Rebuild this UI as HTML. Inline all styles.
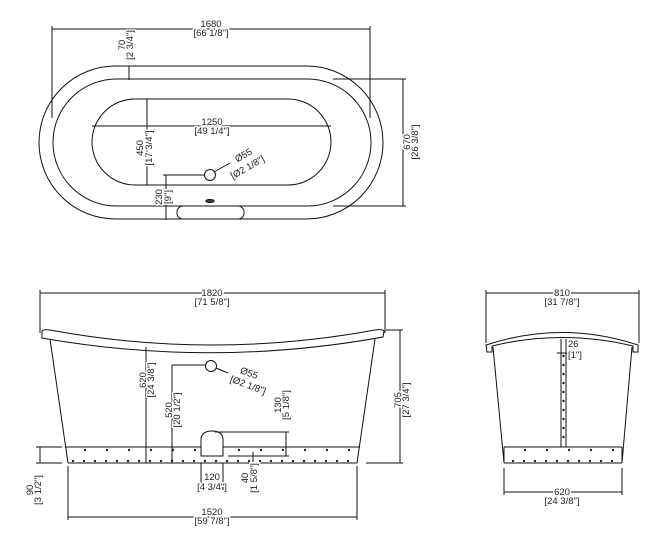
<!DOCTYPE html>
<html><head><meta charset="utf-8"><style>
html,body{margin:0;padding:0;background:#fff;}
svg{display:block;}
text{font-family:"Liberation Sans",sans-serif;font-size:9.5px;fill:#222;stroke:#fff;stroke-width:3px;paint-order:stroke;stroke-linejoin:round;}
</style></head><body>
<svg width="652" height="534" viewBox="0 0 652 534" xmlns="http://www.w3.org/2000/svg">
<defs>
<pattern id="d1" x="8" y="0" width="22" height="20" patternUnits="userSpaceOnUse"><circle cx="11" cy="450" r="1.2" fill="#222" transform="translate(0,-440)"/></pattern>
<pattern id="d2" x="2" y="0" width="11" height="20" patternUnits="userSpaceOnUse"><circle cx="5" cy="461" r="1.2" fill="#222" transform="translate(0,-460)"/></pattern>
</defs>
<g fill="none" stroke="#111" stroke-width="1">
<rect x="39" y="66" width="344" height="153" rx="76.5" ry="76.5"/>
<rect x="53" y="79" width="318" height="127" rx="63.5" ry="63.5"/>
<rect x="92" y="99" width="239" height="86" rx="43" ry="43"/>
<rect x="177" y="206" width="67" height="13" rx="6" ry="6"/>
<ellipse cx="210" cy="201" rx="4" ry="1.5" fill="#444"/>
<circle cx="210" cy="175" r="5.5"/>
<line x1="214" y1="172" x2="230" y2="163"/>
<line x1="52" y1="29" x2="370" y2="29"/>
<line x1="52" y1="26" x2="52" y2="118"/>
<line x1="370" y1="26" x2="370" y2="118"/>
<line x1="129" y1="66" x2="129" y2="80"/>
<line x1="92" y1="126" x2="331" y2="126"/>
<line x1="147" y1="99" x2="147" y2="185"/>
<line x1="166" y1="175" x2="166" y2="220"/>
<line x1="163" y1="175" x2="204" y2="175"/>
<line x1="403" y1="79" x2="403" y2="206"/>
<line x1="333" y1="79" x2="406" y2="79"/>
<line x1="333" y1="206" x2="406" y2="206"/>

<line x1="40" y1="293" x2="385" y2="293"/>
<line x1="40" y1="290" x2="40" y2="333"/>
<line x1="385" y1="290" x2="385" y2="333"/>
<path d="M42,331 Q44,329 50,330 Q212,360 375,330 Q382,329 384,331 L383,337 Q212,368 42,338 Z" fill="#fff"/>
<line x1="50" y1="339" x2="68" y2="463"/>
<line x1="375" y1="339" x2="357" y2="463"/>
<line x1="65" y1="447" x2="360" y2="447"/>
<line x1="68" y1="463" x2="357" y2="463"/>
<rect x="72" y="445" width="280" height="10" fill="url(#d1)" stroke="none"/>
<rect x="68" y="456" width="287" height="10" fill="url(#d2)" stroke="none"/>
<path d="M201,456 L201,440 Q201,431 212,431 Q223,431 223,440 L223,456 Z" fill="#fff"/>
<circle cx="211" cy="366" r="5.5"/>
<line x1="216" y1="368" x2="228" y2="373"/>
<line x1="146" y1="347" x2="146" y2="463"/>
<line x1="172" y1="365" x2="172" y2="463"/>
<line x1="172" y1="365" x2="205" y2="365"/>
<line x1="215" y1="432" x2="289" y2="432"/>
<line x1="286" y1="432" x2="286" y2="456"/>
<line x1="228" y1="456" x2="289" y2="456"/>
<line x1="253" y1="452" x2="253" y2="467"/>
<line x1="201" y1="463" x2="201" y2="490"/>
<line x1="223" y1="463" x2="223" y2="490"/>
<line x1="201" y1="488" x2="223" y2="488"/>
<line x1="40" y1="447" x2="40" y2="463"/>
<line x1="36" y1="447" x2="62" y2="447"/>
<line x1="36" y1="463" x2="62" y2="463"/>
<line x1="400" y1="330" x2="400" y2="463"/>
<line x1="386" y1="330" x2="403" y2="330"/>
<line x1="366" y1="463" x2="403" y2="463"/>
<line x1="68" y1="466" x2="68" y2="520"/>
<line x1="357" y1="466" x2="357" y2="520"/>
<line x1="68" y1="517" x2="357" y2="517"/>

<line x1="486" y1="293" x2="639" y2="293"/>
<line x1="486" y1="290" x2="486" y2="343"/>
<line x1="639" y1="290" x2="639" y2="343"/>
<path d="M486,345 Q562,320 638,345 L638,352 L633,352 L633,346 Q562,329 492,346 L492,352 L487,352 Z" fill="#fff"/>
<line x1="493" y1="347" x2="504" y2="463"/>
<line x1="632" y1="347" x2="622" y2="463"/>
<line x1="504" y1="447" x2="622" y2="447"/>
<line x1="504" y1="463" x2="622" y2="463"/>
<line x1="504" y1="447" x2="504" y2="463"/>
<line x1="622" y1="447" x2="622" y2="463"/>
<line x1="561" y1="339" x2="561" y2="447"/>
<line x1="566" y1="339" x2="566" y2="447"/>
<line x1="557" y1="353" x2="570" y2="353"/>
<rect x="506" y="445" width="116" height="10" fill="url(#d1)" stroke="none"/>
<rect x="504" y="456" width="118" height="10" fill="url(#d2)" stroke="none"/>
<line x1="504" y1="468" x2="504" y2="495"/>
<line x1="622" y1="468" x2="622" y2="495"/>
<line x1="504" y1="492" x2="622" y2="492"/>
</g>
<g fill="#222">
<circle cx="563.5" cy="356" r="1.2"/><circle cx="563.5" cy="365" r="1.2"/><circle cx="563.5" cy="374" r="1.2"/><circle cx="563.5" cy="383" r="1.2"/><circle cx="563.5" cy="392" r="1.2"/><circle cx="563.5" cy="401" r="1.2"/><circle cx="563.5" cy="410" r="1.2"/><circle cx="563.5" cy="419" r="1.2"/><circle cx="563.5" cy="428" r="1.2"/><circle cx="563.5" cy="437" r="1.2"/>
</g>
<g text-anchor="middle">
<text x="211" y="27">1680</text><text x="211" y="36">[66 1/8"]</text>
<text x="212" y="125">1250</text><text x="212" y="134">[49 1/4"]</text>
<text x="212" y="296">1820</text><text x="212" y="305">[71 5/8"]</text>
<text x="212" y="515">1520</text><text x="212" y="524">[59 7/8"]</text>
<text x="212" y="480">120</text><text x="212" y="490">[4 3/4"]</text>
<text x="562" y="296">810</text><text x="562" y="305">[31 7/8"]</text>
<text x="562" y="495">620</text><text x="562" y="504">[24 3/8"]</text>
<text transform="translate(125,45) rotate(-90)">70</text>
<text transform="translate(133,45) rotate(-90)">[2 3/4"]</text>
<text transform="translate(143,148) rotate(-90)">450</text>
<text transform="translate(152,148) rotate(-90)">[17 3/4"]</text>
<text transform="translate(162,197) rotate(-90)">230</text>
<text transform="translate(171,197) rotate(-90)">[9"]</text>
<text transform="translate(410,142) rotate(-90)">670</text>
<text transform="translate(418,142) rotate(-90)">[26 3/8"]</text>
<text transform="translate(146,380) rotate(-90)">620</text>
<text transform="translate(154,380) rotate(-90)">[24 3/8"]</text>
<text transform="translate(172,410) rotate(-90)">520</text>
<text transform="translate(180,410) rotate(-90)">[20 1/2"]</text>
<text transform="translate(281,405) rotate(-90)">130</text>
<text transform="translate(289,405) rotate(-90)">[5 1/8"]</text>
<text transform="translate(248,478) rotate(-90)">40</text>
<text transform="translate(257,478) rotate(-90)">[1 5/8"]</text>
<text transform="translate(33,490) rotate(-90)">90</text>
<text transform="translate(41,490) rotate(-90)">[3 1/2"]</text>
<text transform="translate(401,400) rotate(-90)">705</text>
<text transform="translate(409,400) rotate(-90)">[27 3/4"]</text>
<text transform="translate(245,158) rotate(-30)">Ø55</text>
<text transform="translate(249,170) rotate(-30)">[Ø2 1/8"]</text>
<text transform="translate(248,376) rotate(20)">Ø55</text>
<text transform="translate(247,388) rotate(20)">[Ø2 1/8"]</text>
</g>
<text x="568" y="347">26</text>
<text x="568" y="358">[1"]</text>
</svg>
</body></html>
